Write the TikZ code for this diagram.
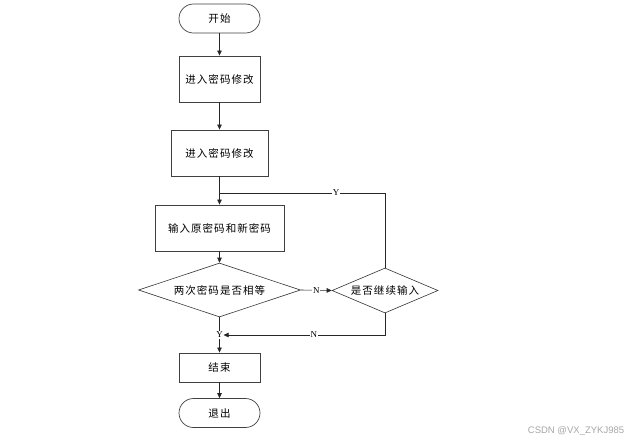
\documentclass[tikz,border=0pt]{standalone}
\usepackage{fontspec}
\usetikzlibrary{shapes.geometric,arrows.meta}
\newfontfamily\cjk[LetterSpace=10]{Noto Sans CJK SC}
\newfontfamily\labfont{Liberation Serif}
\newfontfamily\wmfont{Liberation Sans}
\begin{document}
\begin{tikzpicture}[x=1pt,y=1pt,
  every node/.style={font=\cjk\fontsize{10.5}{12}\selectfont},
  boxst/.style={draw=black!75,line width=0.9pt,rectangle,inner sep=0pt},
  termst/.style={draw=black!75,line width=0.7pt,rectangle,rounded corners=14.5pt,inner sep=0pt,minimum width=81pt,minimum height=29pt},
  decst/.style={draw=black!80,line width=0.6pt,diamond,inner sep=0pt,aspect=3},
  lab/.style={font=\labfont\fontsize{9}{10}\selectfont,fill=white,inner sep=0.6pt},
  conn/.style={draw=black!85,line width=0.6pt},
  arr/.style={conn,-{Triangle[length=5pt,width=4.5pt]}}]
\useasboundingbox (0,0) rectangle (636,-445);
\node[termst] (start) at (219.5,-18.5) {开始};
\node[boxst,minimum width=81pt,minimum height=46pt] (b1) at (219.5,-79) {进入密码修改};
\node[boxst,minimum width=97pt,minimum height=46pt] (b2) at (219.5,-153) {进入密码修改};
\node[boxst,minimum width=129pt,minimum height=46pt] (b3) at (219.5,-228) {输入原密码和新密码};
\node[decst,minimum width=162pt,minimum height=54pt] (d1) at (219.5,-290) {两次密码是否相等};
\node[decst,minimum width=106pt,minimum height=45pt] (d2) at (385,-290.5) {是否继续输入};
\node[boxst,minimum width=81pt,minimum height=29pt] (b4) at (219.5,-367.5) {结束};
\node[termst] (exit) at (219.5,-413) {退出};
\node[lab] (ylab) at (219.5,-335) {Y};
\coordinate (j1) at (219.5,-193);
\draw[arr] (start) -- (b1);
\draw[arr] (b1) -- (b2);
\draw[arr] (b2.south) -- (j1) -- (b3.north);
\draw[arr] (b3) -- (d1);
\draw[arr] (d1.east) -- node[lab]{N} (d2.west);
\draw[conn] (d2.north) |- node[lab,pos=0.648]{Y} (j1);
\draw[conn] (d1.south) -- (ylab.north);
\draw[arr] (d2.south) |- node[lab,pos=0.72]{N} (ylab.east);
\draw[arr] (ylab.south) -- (b4.north);
\draw[arr] (b4) -- (exit);
\node[font=\wmfont\fontsize{9.5}{11}\selectfont,text=black!35] (wm) at (576,-431) {CSDN @VX\_ZYKJ985};
\end{tikzpicture}
\end{document}
